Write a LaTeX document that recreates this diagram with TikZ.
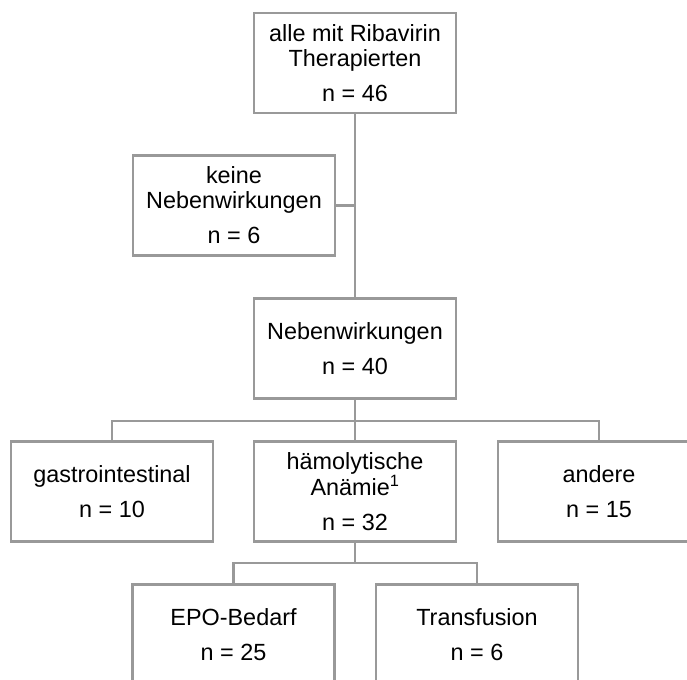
\documentclass[tikz,border=0pt]{standalone}
\usepackage{fontspec}
\setmainfont{Liberation Sans}
\definecolor{linegray}{HTML}{999999}
\begin{document}
\begin{tikzpicture}[x=1pt,y=-1pt,
  box/.style={draw=linegray, line width=2.6pt, fill=white, minimum width=202pt, minimum height=100pt,
    inner sep=0pt, align=center, font=\fontsize{23.4}{25}\selectfont, text=black},
  conn/.style={draw=linegray, line width=2.6pt}]
\clip (0,0) rectangle (687,679);
\fill[white] (0,0) rectangle (687,679);
\node[box] (top) at (355,63) {alle mit Ribavirin\\Therapierten\\[10pt]n = 46};
\node[box] (keine) at (234,205.5) {keine\\Nebenwirkungen\\[10pt]n = 6};
\node[box] (neben) at (355,348.5) {Nebenwirkungen\\[10pt]n = 40};
\node[box] (gastro) at (112,491.5) {gastrointestinal\\[10pt]n = 10};
\node[box] (haemo) at (355,491.5) {hämolytische\\Anämie\textsuperscript{1}\\[10pt]n = 32};
\node[box] (andere) at (599,491.5) {andere\\[10pt]n = 15};
\node[box] (epo) at (233.5,634.5) {EPO-Bedarf\\[10pt]n = 25};
\node[box] (trans) at (477,634.5) {Transfusion\\[10pt]n = 6};
\coordinate (b1) at (355,421);
\coordinate (b2) at (355,563);
\draw[conn] (top.south) -- (neben.north);
\draw[conn] (keine.east) -- (top.south |- keine.east);
\draw[conn] (neben.south) -- (haemo.north);
\draw[conn] (gastro.north) |- (b1) -| (andere.north);
\draw[conn] (haemo.south) -- (b2);
\draw[conn] (epo.north) |- (b2) -| (trans.north);
\end{tikzpicture}
\end{document}
